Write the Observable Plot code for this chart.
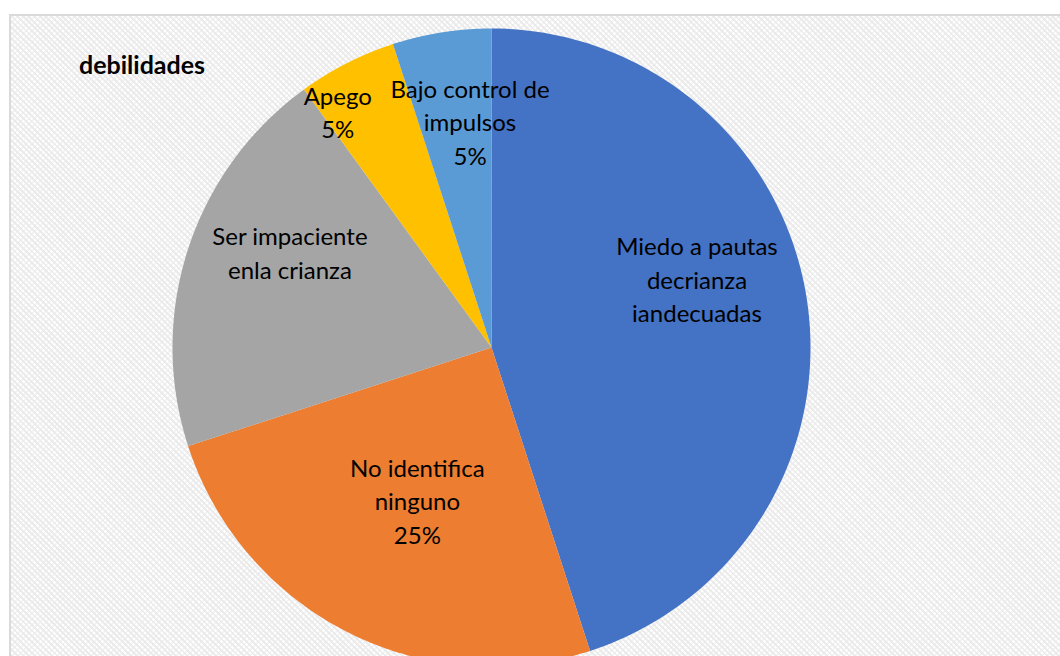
<!DOCTYPE html>
<html><head><meta charset="utf-8">
<script src="https://cdn.jsdelivr.net/npm/d3@7"></script>
<script src="https://cdn.jsdelivr.net/npm/@observablehq/plot@0.6"></script>
<style>
body{margin:0;background:#fff;}
#wrap{position:relative;width:1060px;height:656px;overflow:hidden;}
#frame{position:absolute;left:9px;top:14px;width:1060px;height:660px;border:2px solid #dadada;
 background:
  repeating-linear-gradient(45deg, rgba(255,255,255,0) 0 2px, rgba(232,232,232,0.8) 2px 4px),
  repeating-linear-gradient(-45deg, #fff 0 2px, #f4f4f4 2px 4px);}
#title{position:absolute;left:79px;top:49px;font-weight:bold;font-size:25px;font-family:Lato,sans-serif;color:#000;}
#chart{position:absolute;left:0;top:0;}
</style></head>
<body>
<div id="wrap"><div id="frame"></div><div id="title">debilidades</div><div id="chart"></div></div>
<script>
const categories = ["Miedo a pautas decrianza iandecuadas","No identifica ninguno","Ser impaciente enla crianza","Apego","Bajo control de impulsos"];
const values = [45, 25, 20, 5, 5];
const labelLines = ["Miedo a pautas\ndecrianza\niandecuadas","No identifica\nninguno\n25%","Ser impaciente\nenla crianza","Apego\n5%","Bajo control de\nimpulsos\n5%"];
const colors = ["#4472C4","#ED7D31","#A5A5A5","#FFC000","#5B9BD5"];
// label placement (radius fraction, angle in degrees clockwise from top)
const labelRadius = [0.68, 0.53, 0.70, 0.885, 0.715];
const labelAngle = [71.3, 206, 295.5, 327, 354.6];

const total = d3.sum(values);
const pts = [];
let cum = 0;
categories.forEach((c, i) => {
  const a0 = cum / total * 2 * Math.PI;
  cum += values[i];
  const a1 = cum / total * 2 * Math.PI;
  pts.push({cat: c, x: 0, y: 0});
  const n = 120;
  for (let k = 0; k <= n; k++) {
    const a = a0 + (a1 - a0) * k / n;
    pts.push({cat: c, x: Math.sin(a), y: Math.cos(a)});
  }
  pts.push({cat: c, x: 0, y: 0});
});
const labels = categories.map((c, i) => {
  const a = labelAngle[i] * Math.PI / 180;
  return {cat: c, text: labelLines[i], x: labelRadius[i] * Math.sin(a), y: labelRadius[i] * Math.cos(a)};
});

const chart = Plot.plot({
  width: 1060, height: 656, margin: 0,
  style: {background: "transparent", overflow: "hidden"},
  x: {domain: [-1, 1], range: [172, 810], axis: null},
  y: {domain: [-1, 1], range: [666, 28], axis: null},
  color: {domain: categories, range: colors},
  marks: [
    Plot.line(pts, {x: "x", y: "y", z: "cat", fill: "cat", stroke: null, curve: "linear"}),
    Plot.text(labels, {x: "x", y: "y", text: "text", fontSize: 24, lineHeight: 1.4, fill: "#000", fontFamily: "Lato, sans-serif"})
  ]
});
document.getElementById("chart").append(chart);
</script>
</body></html>
